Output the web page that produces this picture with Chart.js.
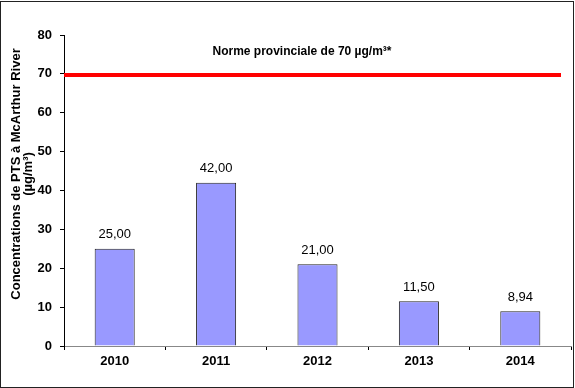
<!DOCTYPE html>
<html>
<head>
<meta charset="utf-8">
<script src="https://cdn.jsdelivr.net/npm/chart.js@4/dist/chart.umd.min.js"></script>
<style>
  html, body { margin: 0; padding: 0; background: #fff; }
  #wrap { width: 575px; height: 388px; }
</style>
</head>
<body>
<div id="wrap"><canvas id="chart" width="575" height="388"></canvas></div>
<script>
const years = ["2010", "2011", "2012", "2013", "2014"];
const concentrations = [25.0, 42.0, 21.0, 11.5, 8.94];
const normValue = 70;
const normLabel = "Norme provinciale de 70 µg/m³*";
const yTitleLines = ["Concentrations de PTS à McArthur River", "(µg/m³)"];
const yMin = 0;
const yMax = 80;
const yStep = 10;

const FONT = "'Liberation Sans', Arial, sans-serif";

// cadre + ligne de norme + textes
const decorPlugin = {
  id: "decor",
  beforeDraw(chart) {
    const ctx = chart.ctx;
    ctx.save();
    ctx.fillStyle = "#fff";
    ctx.fillRect(0, 0, chart.width, chart.height);
    ctx.strokeStyle = "#222";
    ctx.lineWidth = 1;
    ctx.strokeRect(0.5, 1.5, 573, 386);
    ctx.restore();
  },
  afterDatasetsDraw(chart) {
    const ctx = chart.ctx;
    const area = chart.chartArea;
    const y = chart.scales.y.getPixelForValue(normValue);
    ctx.save();
    // ligne rouge
    ctx.strokeStyle = "#ff0000";
    ctx.lineWidth = 4;
    ctx.beginPath();
    ctx.moveTo(area.left, y + 1);
    ctx.lineTo(area.right - 10, y + 1);
    ctx.stroke();

    ctx.fillStyle = "#000";
    ctx.font = `bold 12px ${FONT}`;
    ctx.textAlign = "center";
    ctx.textBaseline = "alphabetic";
    ctx.fillText(normLabel, area.left + 238, y - 19);

    // étiquettes de valeurs
    ctx.font = `13px ${FONT}`;
    ctx.textBaseline = "middle";
    const meta = chart.getDatasetMeta(0);
    meta.data.forEach((bar, i) => {
      const txt = concentrations[i].toFixed(2).replace(".", ",");
      ctx.fillText(txt, bar.x, bar.y - 14);
    });

    // titre de l'axe Y
    ctx.font = `bold 13px ${FONT}`;
    ctx.textBaseline = "alphabetic";
    const cy = 174;
    [20, 32].forEach((bx, i) => {
      ctx.save();
      ctx.translate(bx, cy);
      ctx.rotate(-Math.PI / 2);
      ctx.fillText(yTitleLines[i], 0, 0);
      ctx.restore();
    });
    ctx.restore();
  },
};

new Chart(document.getElementById("chart"), {
  type: "bar",
  data: {
    labels: years,
    datasets: [
      {
        data: concentrations,
        backgroundColor: "#9999ff",
        borderColor: "#222",
        borderWidth: 1,
        borderSkipped: "bottom",
        barPercentage: 0.395,
        categoryPercentage: 1,
      },
    ],
  },
  options: {
    responsive: false,
    animation: false,
    layout: { padding: { top: 35, right: 4, left: 0, bottom: 0 } },
    plugins: {
      legend: { display: false },
      tooltip: { enabled: false },
    },
    scales: {
      x: {
        afterFit: (s) => { s.height = 42; },
        border: { display: true, color: "#888", width: 1 },
        grid: {
          offset: true,
          drawOnChartArea: false,
          drawTicks: true,
          tickLength: 4,
          tickColor: "#000",
        },
        ticks: {
          color: "#000",
          padding: 4,
          font: { family: FONT, size: 13, weight: "bold" },
        },
      },
      y: {
        min: yMin,
        max: yMax,
        afterFit: (s) => { s.width = 64; },
        border: { display: true, color: "#000", width: 1 },
        grid: {
          drawOnChartArea: false,
          drawTicks: true,
          tickLength: 4,
          tickColor: "#000",
        },
        ticks: {
          stepSize: yStep,
          color: "#000",
          padding: 8,
          font: { family: FONT, size: 13, weight: "bold" },
        },
      },
    },
  },
  plugins: [decorPlugin],
});
</script>
</body>
</html>
